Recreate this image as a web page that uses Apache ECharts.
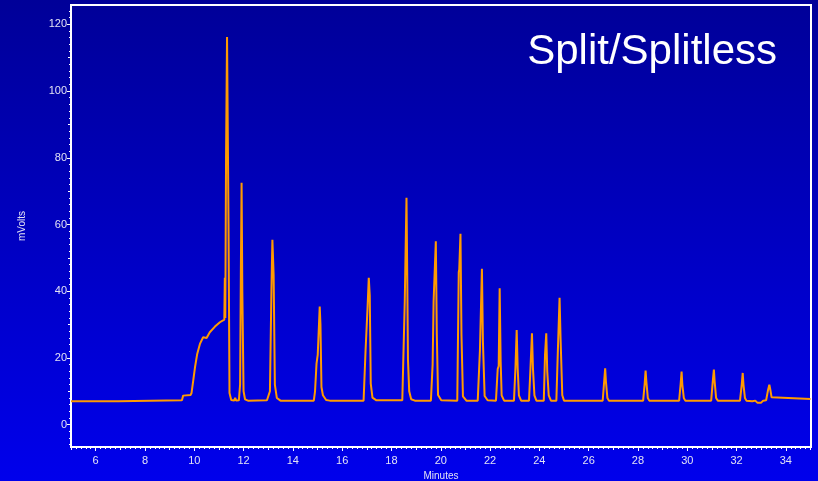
<!DOCTYPE html>
<html>
<head>
<meta charset="utf-8">
<script src="https://cdn.jsdelivr.net/npm/echarts@6/dist/echarts.min.js"></script>
<style>
html,body{margin:0;padding:0;background:#0000c0;}
#chart{width:818px;height:481px;}
</style>
</head>
<body>
<div id="chart"></div>
<script>
// ---- data ----
const titleText = 'Split/Splitless';
const xAxisName = 'Minutes';
const yAxisName = 'mVolts';
const xTickLabels = [6, 8, 10, 12, 14, 16, 18, 20, 22, 24, 26, 28, 30, 32, 34];
const yTickLabels = [0, 20, 40, 60, 80, 100, 120];

// retention time (min) and detector signal (mV), read point by point
const timeMin = [
  5.00, 6.92, 6.95, 9.50, 9.55, 9.85, 9.89, 9.96, 10.03, 10.12, 10.23, 10.36, 10.50, 10.63, 10.84, 11.04, 11.22,
  11.24, 11.26, 11.29, 11.33, 11.36, 11.39, 11.43, 11.50, 11.62, 11.66, 11.70, 11.81,
  11.86, 11.89, 11.92, 11.95, 12.00, 12.06, 12.18,
  12.95, 13.07, 13.13, 13.17, 13.22, 13.27, 13.35, 13.50,
  14.85, 14.90, 14.96, 15.01, 15.09, 15.12, 15.16, 15.22, 15.35, 15.50,
  16.87, 16.95, 17.03, 17.08, 17.12, 17.16, 17.23, 17.39,
  18.44, 18.54, 18.61, 18.64, 18.67, 18.69, 18.72, 18.80, 18.95,
  19.60, 19.67, 19.71, 19.80, 19.84, 19.89, 20.02,
  20.67, 20.73, 20.75, 20.80, 20.84, 20.90, 21.04,
  21.50, 21.59, 21.67, 21.71, 21.78, 21.90,
  22.24, 22.31, 22.35, 22.39, 22.43, 22.47, 22.57,
  22.97, 23.03, 23.08, 23.12, 23.17, 23.26,
  23.58, 23.64, 23.70, 23.74, 23.80, 23.88,
  24.18, 24.23, 24.28, 24.32, 24.38, 24.47,
  24.69, 24.75, 24.82, 24.86, 24.93, 25.00,
  26.57, 26.63, 26.67, 26.70, 26.76, 26.82,
  28.21, 28.27, 28.31, 28.34, 28.40, 28.46,
  29.67, 29.73, 29.77, 29.80, 29.86, 29.92,
  30.97, 31.03, 31.08, 31.11, 31.17, 31.24,
  32.14, 32.21, 32.25, 32.28, 32.34, 32.40,
  32.64, 32.70, 32.76, 32.84, 32.92, 33.00, 33.08,
  33.20, 33.28, 33.33, 33.37, 33.42, 33.47, 35.00
];
const signalMV = [
  7.0, 7.0, 7.3, 7.3, 8.7, 8.9, 9.5, 13.3, 17.2, 21.2, 24.2, 26.2, 26.0, 27.7, 29.4, 30.7, 31.5,
  44.0, 32.0, 80.0, 116.2, 116.5, 60.0, 9.5, 7.4, 7.2, 8.0, 7.2, 7.3,
  12.0, 45.0, 72.5, 40.0, 10.0, 7.6, 7.2,
  7.3, 10.0, 40.0, 55.4, 45.0, 12.0, 8.0, 7.2,
  7.2, 10.0, 18.3, 21.0, 35.4, 30.0, 11.3, 8.8, 7.4, 7.2,
  7.2, 22.3, 35.0, 44.0, 38.7, 12.3, 8.1, 7.3,
  7.3, 37.0, 68.0, 45.0, 19.5, 19.0, 10.0, 7.6, 7.2,
  7.2, 18.0, 37.0, 55.0, 27.0, 8.9, 7.3,
  7.2, 45.7, 46.5, 57.2, 27.0, 8.5, 7.2,
  7.2, 22.4, 46.7, 25.0, 8.6, 7.3,
  7.2, 16.7, 17.6, 40.9, 18.9, 8.8, 7.2,
  7.2, 17.0, 28.4, 17.0, 8.8, 7.2,
  7.2, 17.0, 27.4, 17.0, 8.8, 7.2,
  7.2, 21.0, 27.4, 16.0, 8.8, 7.2,
  7.2, 22.0, 38.0, 26.0, 8.8, 7.2,
  7.2, 13.0, 16.9, 13.0, 8.0, 7.2,
  7.2, 12.0, 16.2, 13.0, 8.0, 7.2,
  7.2, 12.0, 15.9, 12.0, 8.0, 7.2,
  7.2, 12.5, 16.5, 13.0, 8.0, 7.2,
  7.2, 12.0, 15.5, 12.0, 8.0, 7.2,
  7.0, 6.6, 7.2, 6.6, 7.1, 6.6, 7.2,
  7.3, 10.5, 12.0, 10.5, 8.2, 7.7, 7.7
];

// ---- build ----
const seriesData = timeMin.map((t, i) => [t, signalMV[i]]);

const X_MIN = 5, X_MAX = 35.02, Y_MIN = -6.7, Y_MAX = 125.8;
const labelColor = '#e2e2f4';
const fontFam = '"Liberation Sans", Arial, sans-serif';

function range(a, b, s) { const r = []; for (let v = a; v <= b + 1e-9; v += s) r.push(Math.round(v * 100) / 100); return r; }
const xOdd = range(5, 35, 2);
const xMinor = range(5.2, 34.8, 0.2).filter(v => Math.abs(v - Math.round(v)) > 1e-6);
const yMid = range(10, 110, 20);
const yMinor = range(-6, 124, 2).filter(v => v % 10 !== 0);

function xAx(ticks, len, labels, extra) {
  return Object.assign({
    type: 'value', min: X_MIN, max: X_MAX, position: 'bottom',
    axisLine: { show: true, onZero: false, lineStyle: { color: '#ffffff', width: 2 } },
    splitLine: { show: false },
    axisTick: { show: true, inside: false, length: len, customValues: ticks, lineStyle: { color: '#ffffff', width: 1 } },
    axisLabel: labels ? { show: true, customValues: labels, color: labelColor, fontSize: 11, margin: 8, fontFamily: fontFam } : { show: false }
  }, extra || {});
}
function yAx(ticks, len, labels, extra) {
  return Object.assign({
    type: 'value', min: Y_MIN, max: Y_MAX, position: 'left',
    axisLine: { show: true, onZero: false, lineStyle: { color: '#ffffff', width: 2 } },
    splitLine: { show: false },
    axisTick: { show: true, inside: false, length: len, customValues: ticks, lineStyle: { color: '#ffffff', width: 1 } },
    axisLabel: labels ? { show: true, customValues: labels, color: labelColor, fontSize: 11, margin: 4, fontFamily: fontFam } : { show: false }
  }, extra || {});
}

const chart = echarts.init(document.getElementById('chart'), null, { renderer: 'canvas' });
chart.setOption({
  animation: false,
  backgroundColor: new echarts.graphic.LinearGradient(0, 0, 0, 1, [
    { offset: 0, color: '#000098' },
    { offset: 1, color: '#0000ec' }
  ]),
  grid: { left: 71, right: 7, top: 5, bottom: 34, show: true, borderColor: '#ffffff', borderWidth: 2, backgroundColor: 'transparent', containLabel: false, outerBoundsMode: 'none' },
  xAxis: [
    xAx(xTickLabels, 4, xTickLabels, { name: xAxisName, nameLocation: 'middle', nameGap: 23, nameTextStyle: { color: labelColor, fontSize: 10, fontFamily: fontFam } }),
    xAx(xOdd, 3, null),
    xAx(xMinor, 2, null)
  ],
  yAxis: [
    yAx(yTickLabels, 4, yTickLabels, { name: yAxisName, nameLocation: 'middle', nameGap: 44, nameRotate: 90, nameTextStyle: { color: labelColor, fontSize: 10, fontFamily: fontFam } }),
    yAx(yMid, 3, null),
    yAx(yMinor, 2, null)
  ],
  graphic: [{
    type: 'text', right: 41, top: 31, z: 100,
    style: { text: titleText, fill: '#ffffff', font: '42px "Liberation Sans", Arial, sans-serif' }
  }],
  series: [{
    type: 'line', data: seriesData, xAxisIndex: 0, yAxisIndex: 0,
    showSymbol: false, symbol: 'none',
    lineStyle: { color: '#ff9a00', width: 2 },
    z: 5
  }]
});
</script>
</body>
</html>
